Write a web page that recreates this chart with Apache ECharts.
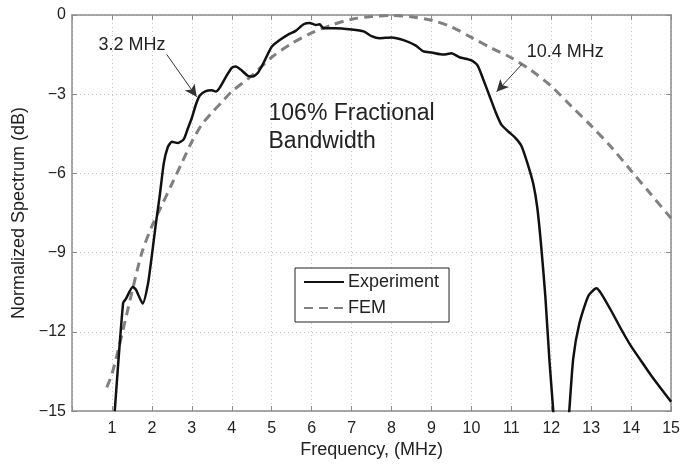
<!DOCTYPE html>
<html>
<head>
<meta charset="utf-8">
<script src="https://cdn.jsdelivr.net/npm/echarts@6/dist/echarts.min.js"></script>
<style>html,body{margin:0;padding:0;background:#fff}#c{width:683px;height:464px}</style>
</head>
<body>
<div id="c"></div>
<script>
// ---- data ----
const expFreq = [1.07,1.28,1.35,1.52,1.6,1.77,1.9,2.0,2.1,2.2,2.3,2.4,2.5,2.65,2.8,2.9,3.0,3.1,3.2,3.35,3.5,3.6,3.7,3.85,4.0,4.1,4.25,4.4,4.52,4.65,4.8,5.0,5.2,5.4,5.6,5.8,5.95,6.1,6.2,6.3,6.6,7.0,7.3,7.5,7.7,8.0,8.3,8.6,8.8,9.0,9.3,9.5,9.7,10.0,10.15,10.3,10.45,10.6,10.75,10.93,11.1,11.25,11.4,11.55,11.65,11.75,11.85,11.95,12.05,12.15,12.35,12.45,12.55,12.7,12.93,13.13,13.25,13.5,13.75,14.0,14.25,14.5,14.75,15.0];
const expDb   = [-15,-10.9,-10.75,-10.3,-10.4,-10.93,-10.2,-9.1,-7.9,-6.8,-5.6,-5.0,-4.8,-4.85,-4.7,-4.3,-3.9,-3.4,-3.05,-2.88,-2.85,-2.9,-2.75,-2.35,-2.0,-1.95,-2.1,-2.3,-2.33,-2.2,-1.8,-1.2,-0.95,-0.75,-0.6,-0.35,-0.3,-0.38,-0.35,-0.5,-0.5,-0.55,-0.62,-0.8,-0.88,-0.85,-0.95,-1.15,-1.38,-1.42,-1.5,-1.45,-1.6,-1.72,-1.9,-2.45,-3.05,-3.65,-4.15,-4.42,-4.65,-4.95,-5.6,-6.4,-7.3,-8.8,-10.63,-13.0,-15.0,-17,-17,-15.0,-13.0,-11.7,-10.63,-10.35,-10.55,-11.2,-11.9,-12.55,-13.1,-13.65,-14.15,-14.65];
const femFreq = [0.87,1.0,1.25,1.5,1.75,2.0,2.25,2.5,2.75,3.0,3.25,3.5,3.75,4.0,4.5,5.0,5.5,6.0,6.5,7.0,7.5,8.0,8.5,9.0,9.5,10.0,10.5,11.0,11.5,12.0,12.5,13.0,13.5,14.0,14.5,15.0];
const femDb   = [-14.1,-13.6,-12.1,-10.5,-9.0,-8.0,-7.2,-6.4,-5.6,-4.8,-4.15,-3.7,-3.3,-2.9,-2.3,-1.6,-1.08,-0.68,-0.38,-0.16,-0.06,-0.02,-0.07,-0.2,-0.45,-0.85,-1.25,-1.62,-2.1,-2.7,-3.45,-4.2,-5.0,-5.9,-6.8,-7.7];
const xTicks = [1,2,3,4,5,6,7,8,9,10,11,12,13,14,15];
const yTicks = [0,-3,-6,-9,-12,-15];
const seriesNames = ['Experiment','FEM'];
const bandwidthText = '106% Fractional\nBandwidth';
const arrowLabels = ['3.2 MHz','10.4 MHz'];
// annotation anchors (data coordinates)
const arrowLines = [[[2.37,-1.49],[3.12,-3.1]], [[11.26,-1.87],[10.63,-2.91]]];
const arrowLabelAt = [[1.5,-1.12],[12.35,-1.42]];
const bandwidthAt = [4.92,-4.25];

const FONT = '"Liberation Sans", Arial, Helvetica, sans-serif';
const expData = expFreq.map((f,i)=>[f,expDb[i]]);
const femData = femFreq.map((f,i)=>[f,femDb[i]]);
const fmtY = v => v === 0 ? '0' : '\u2212' + Math.abs(v);

const axisCommon = {
  axisLine:{show:true,onZero:false,lineStyle:{color:'#8c8c8c',width:1.5}},
  axisTick:{show:true,inside:true,length:5,lineStyle:{color:'#8c8c8c',width:1}},
};

const chart = echarts.init(document.getElementById('c'));
chart.setOption({
  animation:false,
  backgroundColor:'#fff',
  grid:{left:72,right:10,top:15,bottom:47,containLabel:false},
  legend:{
    data:seriesNames,
    orient:'vertical',
    left:295, top:268,
    padding:[5,10,5,8],
    itemWidth:40, itemHeight:14, itemGap:8,
    borderColor:'#222', borderWidth:1,
    backgroundColor:'#fff',
    itemStyle:{color:'rgba(0,0,0,0)',borderColor:'rgba(0,0,0,0)',borderWidth:0},
    textStyle:{fontFamily:FONT,fontSize:18,color:'#222',padding:[0,0,0,-1]},
  },
  xAxis:[
    Object.assign({type:'value',min:0,max:15,interval:1,position:'bottom',
      name:'Frequency, (MHz)',nameLocation:'middle',nameGap:28,
      nameTextStyle:{fontFamily:FONT,fontSize:18,color:'#222'},
      axisLabel:{fontFamily:FONT,fontSize:16,color:'#222',margin:9,
        formatter:v=> xTicks.includes(v) ? String(v) : ''},
      splitLine:{show:true,lineStyle:{color:'#c4c4c4',type:[1,3],width:1}}},axisCommon),
    Object.assign({type:'value',min:0,max:15,interval:1,position:'top',
      axisLabel:{show:false},splitLine:{show:false}},axisCommon)
  ],
  yAxis:[
    Object.assign({type:'value',min:-15,max:0,interval:3,position:'left',
      name:'Normalized Spectrum (dB)',nameLocation:'middle',nameGap:44,
      nameTextStyle:{fontFamily:FONT,fontSize:18,color:'#222'},
      axisLabel:{fontFamily:FONT,fontSize:16,color:'#222',margin:6,
        formatter:v=> yTicks.includes(v) ? fmtY(v) : ''},
      splitLine:{show:true,lineStyle:{color:'#c4c4c4',type:[1,3],width:1}}},axisCommon),
    Object.assign({type:'value',min:-15,max:0,interval:3,position:'right',
      axisLabel:{show:false},splitLine:{show:false}},axisCommon)
  ],
  series:[
    {
      name:seriesNames[1], type:'line', data:femData, symbol:'none', smooth:0.3,
      clip:true, z:2,
      lineStyle:{color:'#808080',width:3,type:[9,6]},
      itemStyle:{color:'#808080'}
    },
    {
      name:seriesNames[0], type:'line', data:expData, symbol:'none', smooth:0.2,
      clip:true, z:3,
      lineStyle:{color:'#111',width:2.5},
      itemStyle:{color:'#111'},
      markLine:{
        silent:true, symbol:['none','arrow'], symbolSize:[9,12],
        lineStyle:{color:'#333',width:1,type:'solid'},
        label:{show:false},
        data: arrowLines.map(a=>[{coord:a[0]},{coord:a[1]}])
      },
      markPoint:{
        silent:true, symbol:'circle', symbolSize:0,
        label:{show:true,position:'inside',fontFamily:FONT,fontSize:18,color:'#222',
          formatter:p=>p.name},
        data: arrowLabels.map((t,i)=>({name:t,coord:arrowLabelAt[i]})).concat([
          {name:bandwidthText,coord:bandwidthAt,
           label:{fontSize:23,lineHeight:28,align:'left',verticalAlign:'middle',position:'inside',color:'#222'}}
        ])
      }
    }
  ]
});
</script>
</body>
</html>
